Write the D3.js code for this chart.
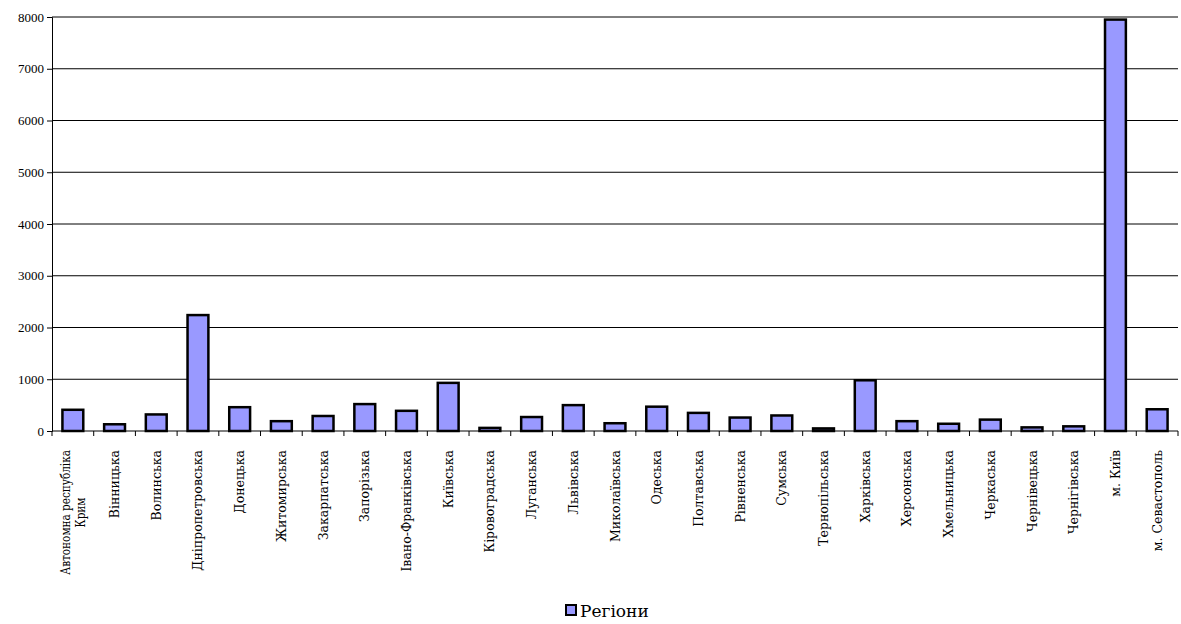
<!DOCTYPE html><html><head><meta charset="utf-8"><script src="https://cdn.jsdelivr.net/npm/d3@7"></script>
<style>body{margin:0;background:#fff}</style></head><body><svg id="c" width="1181" height="624"></svg><script>
const categories=["Автономна республіка\nКрим","Вінницька","Волинська","Дніпропетровська","Донецька","Житомирська","Закарпатська","Запорізька","Івано-Франківська","Київська","Кіровоградська","Луганська","Львівська","Миколаївська","Одеська","Полтавська","Рівненська","Сумська","Тернопільська","Харківська","Херсонська","Хмельницька","Черкаська","Чернівецька","Чернігівська","м. Київ","м. Севастополь"];
const values=[410,130,320,2240,460,190,290,520,390,930,60,270,500,150,470,350,260,300,50,980,190,140,220,70,90,7950,420];
const yTicks=[0,1000,2000,3000,4000,5000,6000,7000,8000];
const seriesName="Регіони";
const FF="'Liberation Serif', 'Times New Roman', serif";
const FC="'DejaVu Serif', serif";
const svg=d3.select("#c").style("font-family",FF);
const L=52,R=1178,T=17,B=431;
const x=d3.scaleBand().domain(categories).range([L,R]).paddingInner(0.5).paddingOuter(0.25);
const y=d3.scaleLinear().domain([0,8000]).range([B,T]);
svg.append("g").selectAll("line").data(yTicks.slice(1)).join("line").attr("x1",L).attr("x2",R).attr("y1",d=>y(d)).attr("y2",d=>y(d)).attr("stroke","#000").attr("stroke-width",1);
const ya=svg.append("g").attr("transform",`translate(${L},0)`).call(d3.axisLeft(y).tickValues(yTicks).tickSize(5).tickFormat(d3.format("d")));
ya.attr("font-family",null);
ya.selectAll("text").style("font-size","13px").style("font-family",FF).attr("fill","#000");
ya.select(".domain").attr("stroke","#000");
svg.append("g").selectAll("rect").data(values).join("rect").attr("x",(d,i)=>x(categories[i])).attr("width",x.bandwidth()).attr("y",d=>y(d)).attr("height",d=>B-y(d)).attr("fill","#9999ff").attr("stroke","#000").attr("stroke-width",2.5);
const step=x.step();
const xa=svg.append("g");
xa.append("line").attr("x1",L).attr("x2",R).attr("y1",B).attr("y2",B).attr("stroke","#000");
xa.selectAll(".t").data(d3.range(categories.length+1)).join("line").attr("x1",i=>L+i*step).attr("x2",i=>L+i*step).attr("y1",B).attr("y2",B+5).attr("stroke","#000");
categories.forEach((c,i)=>{const cx=x(c)+x.bandwidth()/2;const lines=c.split("\n");
 const g=xa.append("g").attr("transform",`translate(${cx},${B+19}) rotate(-90)`);
 const ts=lines.map((l,j)=>g.append("text").attr("text-anchor","end").attr("y",(j-(lines.length-1)/2)*15+4.5).style("font-size","12.5px").style("font-family",FC).text(l));
 const w=ts.map(t=>t.node().getComputedTextLength());const mw=Math.max(...w);
 ts.forEach((t,j)=>t.attr("x",-(mw-w[j])/2));
 if(lines.length>1&&mw>125){ts.forEach(t=>t.attr("textLength",null));g.attr("transform",`translate(${cx},${B+19}) rotate(-90) scale(${125/mw},1)`);}});
const lg=svg.append("g");
lg.append("rect").attr("x",566).attr("y",605).attr("width",10).attr("height",10).attr("fill","#9999ff").attr("stroke","#000").attr("stroke-width",2);
lg.append("text").attr("x",580).attr("y",617).style("font-size","17px").style("font-family",FC).text(seriesName);
</script></body></html>
